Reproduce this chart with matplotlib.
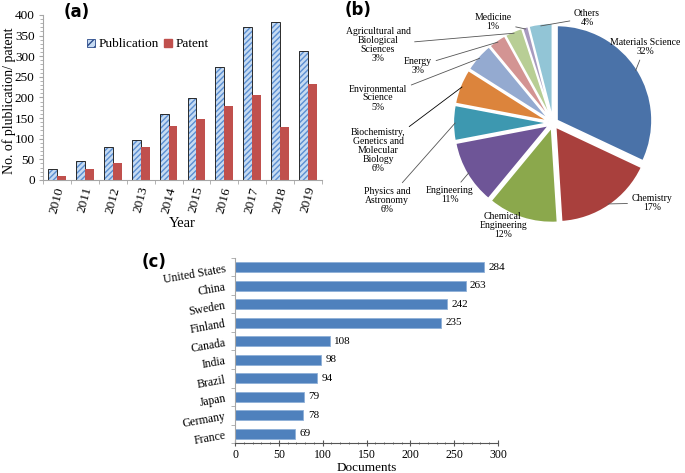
import numpy as np
import matplotlib
matplotlib.use("Agg")
import matplotlib.pyplot as plt
from matplotlib.ticker import MultipleLocator
from matplotlib.patches import Patch

# ---------------- data ----------------
years = ["2010", "2011", "2012", "2013", "2014", "2015", "2016", "2017", "2018", "2019"]
publication = [26, 47, 80, 96, 160, 198, 274, 372, 383, 312]
patent = [9, 27, 41, 79, 131, 149, 179, 205, 128, 233]

subjects = ["Materials Science", "Chemistry", "Chemical\nEngineering", "Engineering",
            "Physics and\nAstronomy", "Biochemistry,\nGenetics and\nMolecular\nBiology",
            "Environmental\nScience", "Energy", "Agricultural and\nBiological\nSciences",
            "Medicine", "Others"]
shares = [32, 17, 12, 11, 6, 6, 5, 3, 3, 1, 4]

countries = ["United States", "China", "Sweden", "Finland", "Canada",
             "India", "Brazil", "Japan", "Germany", "France"]
documents = [284, 263, 242, 235, 108, 98, 94, 79, 78, 69]

# ---------------- style ----------------
SERIF = ["Liberation Serif", "DejaVu Serif"]
plt.rcParams["font.family"] = SERIF
W, H = 685, 473
fig = plt.figure(figsize=(W / 100, H / 100), dpi=100)


def fpx(x, y):
    return (x / W, 1 - y / H)


def rect(x0, y0, x1, y1):
    return [x0 / W, 1 - y1 / H, (x1 - x0) / W, (y1 - y0) / H]


spine_col = "#A6A6A6"

# ---------------- (a) ----------------
axa = fig.add_axes(rect(43, 15, 322, 180))
x = np.arange(len(years))
bw = 0.32
axa.bar(x - bw / 2, publication, bw, color="#C6DBF2", edgecolor="#5B8ED1",
        hatch="//////", linewidth=0)
axa.bar(x - bw / 2, publication, bw, fill=False, edgecolor="#2A2A2A", linewidth=0.7)
axa.bar(x + bw / 2, patent, bw, color="#C0504D", edgecolor="#C0504D", linewidth=0)
axa.set_xlim(-0.5, len(years) - 0.5)
axa.set_ylim(0, 400)
axa.yaxis.set_major_locator(MultipleLocator(50))
axa.yaxis.set_minor_locator(MultipleLocator(10))
axa.set_xticks(x)
axa.set_xticklabels(years, rotation=75, fontsize=9.5)
axa.set_xticks(np.arange(-0.5, len(years), 1), minor=True)
axa.tick_params(axis="x", which="major", length=0, pad=4)
axa.tick_params(axis="x", which="minor", length=3, color=spine_col)
axa.tick_params(axis="y", which="major", length=3, color=spine_col, labelsize=9.5, pad=3)
axa.tick_params(axis="y", which="minor", length=2, color=spine_col)
for s in ["top", "right"]:
    axa.spines[s].set_visible(False)
for s in ["left", "bottom"]:
    axa.spines[s].set_color(spine_col)
axa.set_ylabel("No. of plublication/ patent", fontsize=10)
axa.yaxis.set_label_coords(-0.098, 0.48)
axa.set_xlabel("Year", fontsize=10.5, labelpad=2)
hp = Patch(facecolor="#C6DBF2", edgecolor="#2A4A8A", hatch="////", linewidth=0.6)
rp = Patch(facecolor="#C0504D", edgecolor="#C0504D")
axa.legend([hp, rp], ["Publication", "Patent"], loc="upper left",
           bbox_to_anchor=(0.14, 0.89), ncol=2, frameon=False, fontsize=9.5,
           handlelength=0.6, handleheight=0.6, handletextpad=0.25, columnspacing=0.4,
           borderaxespad=0)
fig.text(*fpx(64, 12), "(a)", fontsize=12, fontweight="bold", family="DejaVu Sans",
         va="center", ha="left")

# ---------------- (b) ----------------
cx, cy, R = 553, 123, 95
axb = fig.add_axes(rect(340, 0, 685, 240))
colors_b = ["#4A72A8", "#A9403D", "#8BA84C", "#6E5597", "#3D98B0", "#DC843C",
            "#94AAD0", "#D39493", "#B8CE95", "#A89BBF", "#92C5D6"]
wedges, _ = axb.pie(shares, colors=colors_b, startangle=90, counterclock=False,
                    explode=[0.05] * len(shares), radius=1,
                    wedgeprops=dict(edgecolor="white", linewidth=1.2))
axb.set_xlim((340 - cx) / R, (685 - cx) / R)
axb.set_ylim((cy - 240) / R, cy / R)
axb.axis("off")

# label text positions (reference pixels)
label_pos = [(645, 47), (652, 203), (503, 225), (450, 195), (387, 200), (378, 150),
             (378, 98), (418, 66), (378, 45), (493, 22), (587, 18)]
leader = [True, True, False, True, True, True, True, True, True, True, True]
leader_col = ["#555555"] * 11
leader_col[5] = "#000000"
for i, (w, lab, val) in enumerate(zip(wedges, subjects, shares)):
    ang = np.deg2rad((w.theta1 + w.theta2) / 2)
    ex, ey = w.center
    px_, py_ = ex + 0.98 * np.cos(ang), ey + 0.98 * np.sin(ang)
    txt = f"{lab}\n{val}%"
    if leader[i]:
        axb.annotate(txt, xy=(px_, py_), xycoords="data",
                     xytext=fpx(*label_pos[i]), textcoords="figure fraction",
                     ha="center", va="center", fontsize=7, linespacing=1.0,
                     arrowprops=dict(arrowstyle="-", color=leader_col[i], lw=0.6,
                                     shrinkA=1, shrinkB=0))
    else:
        fig.text(*fpx(*label_pos[i]), txt, ha="center", va="center", fontsize=7,
                 linespacing=1.0)
fig.text(*fpx(345, 10), "(b)", fontsize=12, fontweight="bold", family="DejaVu Sans",
         va="center", ha="left")

# ---------------- (c) ----------------
axc = fig.add_axes(rect(235, 258, 498, 443))
yc = np.arange(len(countries))
axc.barh(yc, documents, 0.52, color="#4F81BD", edgecolor="#8FB0D8", linewidth=0.6)
for yy, v in zip(yc, documents):
    axc.text(v + 5, yy, str(v), va="center", ha="left", fontsize=8)
axc.set_ylim(len(countries) - 0.5, -0.5)
axc.set_xlim(0, 300)
axc.set_yticks(yc)
axc.set_yticklabels(countries, rotation=10, fontsize=8.5)
axc.set_yticks(np.arange(-0.5, len(countries), 1), minor=True)
axc.tick_params(axis="y", which="major", length=0, pad=6)
axc.tick_params(axis="y", which="minor", length=3, color=spine_col)
axc.xaxis.set_major_locator(MultipleLocator(50))
axc.xaxis.set_minor_locator(MultipleLocator(10))
axc.tick_params(axis="x", which="major", length=4, color="#555555", labelsize=8.5,
                direction="inout", pad=2)
axc.tick_params(axis="x", which="minor", length=2, color="#555555", direction="inout")
for s in ["top", "right"]:
    axc.spines[s].set_visible(False)
axc.spines["left"].set_color(spine_col)
axc.spines["bottom"].set_color("#555555")
axc.set_xlabel("Documents", fontsize=9.5, labelpad=1)
fig.text(*fpx(142, 262), "(c)", fontsize=12, fontweight="bold", family="DejaVu Sans",
         va="center", ha="left")

fig.savefig("out.png", dpi=100, facecolor="white")
